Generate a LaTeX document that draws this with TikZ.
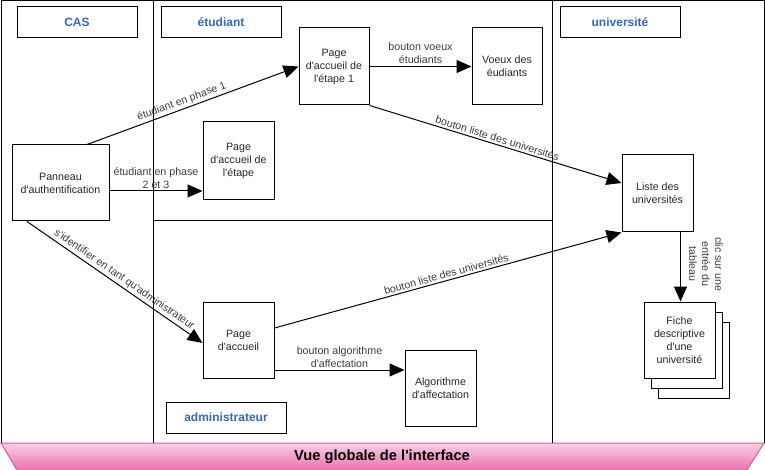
\documentclass[tikz,border=0pt]{standalone}
\usepackage{fontspec}
\setmainfont{Liberation Sans}[Ligatures=TeXOff]
\usetikzlibrary{arrows.meta,shadows}
\definecolor{titleblue}{RGB}{51,102,204}
\definecolor{pinkA}{RGB}{245,208,228}
\definecolor{pinkB}{RGB}{238,112,176}
\definecolor{pinkL}{RGB}{215,95,150}
\definecolor{lbl}{RGB}{60,60,60}
\begin{document}
\begin{tikzpicture}[x=1pt,y=-1pt,
  box/.style={draw, line width=1pt, minimum width=71pt, minimum height=77pt, inner sep=1pt, align=center, font=\fontsize{10.67}{13}\selectfont, text=black!85},
  lane/.style={draw, line width=1pt, minimum width=120pt, minimum height=31pt, font=\fontsize{12}{14}\selectfont\bfseries, text=titleblue},
  arr/.style={line width=1pt, -{Triangle[length=15pt,width=13pt]}},
  lab/.style={font=\fontsize{10.67}{13}\selectfont, text=lbl, align=center, inner sep=2pt},
  frame/.style={line width=1pt}
]
\useasboundingbox (0,0) rectangle (765,470);
% pink band
\shade[top color=pinkA, bottom color=pinkB] (1,443) -- (764,443) -- (747,470) -- (17,470) -- cycle;
\draw[pinkL, line width=1pt] (17,470) -- (1,443) -- (764,443) -- (747,470);
% frame and lanes
\draw[frame] (1,443) -- (1,0.5) -- (764,0.5) -- (764,443);
\draw[frame] (153,0.5) -- (153,443);
\draw[frame] (552,0.5) -- (552,443);
\draw[frame] (153,221) -- (552,221);
% lane titles
\node[lane] (tcas) at (77,22.5) {CAS};
\node[lane] (tetu) at (221,22.5) {étudiant};
\node[lane] (tuni) at (620,22.5) {université};
\node[lane] (tadm) at (226,417.5) {administrateur};
% nodes
\node[box, minimum width=97pt, minimum height=76pt] (panneau) at (60.5,183) {Panneau\\d'authentification};
\node[box, minimum height=78pt] (etape) at (238.5,161) {Page\\d'accueil de\\l'étape};
\node[box, minimum width=70pt] (etape1) at (334,66.5) {Page\\d'accueil de\\l'étape 1};
\node[box, minimum width=70pt] (voeux) at (507,66.5) {Voeux des\\éudiants};
\node[box] (liste) at (657.5,193.5) {Liste des\\universités};
\node[box, minimum height=76pt, fill=white, double copy shadow={shadow xshift=7pt, shadow yshift=-10pt, draw=black, fill=white, line width=1pt}] (fiche) at (679.5,340) {Fiche\\descriptive\\d'une\\université};
\node[box, minimum height=76pt] (accueil) at (238.5,340) {Page\\d'accueil};
\node[box, minimum height=76pt] (algo) at (440.5,388) {Algorithme\\d'affectation};
% connectors
\coordinate (p1) at ([xshift=26.5pt]panneau.north);
\draw[arr] (p1) -- (etape1.west) node[lab, sloped, above, pos=0.46] {étudiant en phase 1};
\coordinate (p2) at ([yshift=-8pt]panneau.east);
\draw[arr] (p2) -- (p2 -| etape.west) node[lab, above, midway] {étudiant en phase\\2 et 3};
\coordinate (p3) at ([xshift=-33.5pt]panneau.south);
\draw[arr] (p3) -- ([yshift=-3pt]accueil.west) node[lab, sloped, above, pos=0.53] {s'identifier en tant qu'administrateur};
\draw[arr] (etape1.east) -- (voeux.west) node[lab, above, midway] {bouton voeux\\étudiants};
\draw[arr] (etape1.south east) -- ([yshift=10.5pt]liste.west) node[lab, sloped, above, midway] {bouton liste des universités};
\coordinate (p6) at ([yshift=12pt]accueil.east);
\draw[arr] (p6) -- (liste.south west) node[lab, sloped, above, midway] {bouton liste des universités};
\coordinate (p7) at ([yshift=-30pt]accueil.east);
\draw[arr] (p7) -- (p7 -| algo.west) node[lab, above, midway] {bouton algorithme\\d'affectation};
\coordinate (p8) at ([xshift=23pt]liste.south);
\draw[arr] (p8) -- (p8 |- fiche.north);
\node[lab, rotate=-90] (l8) at (706,264) {clic sur une\\entrée du\\tableau};
% footer title
\node[font=\fontsize{14.67}{16}\selectfont\bfseries] (titre) at (382,457) {Vue globale de l'interface};
\end{tikzpicture}
\end{document}
